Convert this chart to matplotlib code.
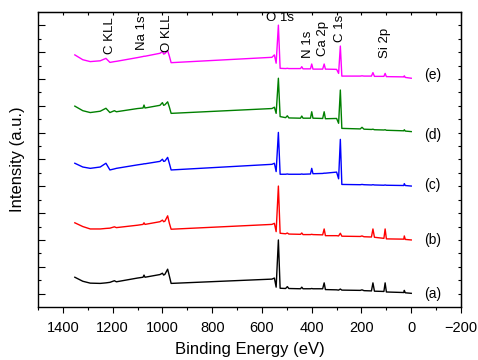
import matplotlib
matplotlib.use("Agg")
import matplotlib.pyplot as plt
from matplotlib.ticker import MultipleLocator

plt.rcParams['font.family'] = ['Liberation Sans', 'DejaVu Sans']

# binding energy grid (eV), shared by all spectra
energy = [1352, 1320, 1290, 1250, 1227, 1211, 1193, 1185, 1100, 1078,
          1074, 1070, 1010, 1000, 995, 990, 979, 972, 965, 560,
          550, 543, 534, 527, 505, 498, 492, 445, 440, 435,
          405, 400, 395, 356, 350, 345, 300, 292, 285, 279,
          205, 198, 190, 160, 154, 148, 110, 105, 100, 30,
          28, 24, 0]

# stacked intensities (a.u., already offset)
spec_a = [1.11, 0.96, 0.89, 0.88, 0.90, 0.92, 0.98, 0.94, 1.08, 1.11,
          1.19, 1.11, 1.21, 1.26, 1.19, 1.22, 1.41, 1.15, 0.88, 1.04,
          1.08, 0.74, 2.50, 0.70, 0.69, 0.76, 0.69, 0.68, 0.74, 0.68,
          0.68, 0.69, 0.68, 0.68, 0.90, 0.65, 0.64, 0.63, 0.67, 0.63,
          0.62, 0.64, 0.61, 0.60, 0.90, 0.59, 0.58, 0.90, 0.56, 0.54,
          0.62, 0.53, 0.51]
spec_b = [3.14, 3.00, 2.91, 2.91, 2.93, 2.94, 2.99, 2.96, 3.05, 3.08,
          3.14, 3.08, 3.18, 3.24, 3.18, 3.20, 3.40, 3.12, 2.90, 3.08,
          3.12, 2.81, 4.51, 2.75, 2.73, 2.76, 2.72, 2.71, 2.76, 2.70,
          2.70, 2.71, 2.70, 2.69, 2.91, 2.66, 2.66, 2.65, 2.75, 2.64,
          2.63, 2.65, 2.62, 2.61, 2.91, 2.60, 2.56, 2.91, 2.54, 2.53,
          2.65, 2.52, 2.50]
spec_c = [5.36, 5.22, 5.17, 5.22, 5.36, 5.11, 5.15, 5.17, 5.30, 5.33,
          5.34, 5.34, 5.43, 5.51, 5.43, 5.44, 5.58, 5.35, 5.11, 5.32,
          5.36, 5.05, 6.51, 4.95, 4.95, 4.96, 4.95, 4.95, 4.96, 4.95,
          4.96, 5.17, 4.97, 4.98, 4.99, 4.99, 5.03, 4.78, 6.25, 4.57,
          4.56, 4.57, 4.56, 4.55, 4.56, 4.55, 4.54, 4.55, 4.54, 4.53,
          4.60, 4.53, 4.51]
spec_d = [7.49, 7.32, 7.25, 7.30, 7.41, 7.25, 7.32, 7.28, 7.40, 7.42,
          7.53, 7.42, 7.52, 7.62, 7.52, 7.54, 7.65, 7.45, 7.22, 7.40,
          7.45, 7.22, 8.53, 7.10, 7.06, 7.13, 7.05, 7.04, 7.12, 7.04,
          7.04, 7.28, 7.04, 7.03, 7.28, 7.02, 7.03, 6.85, 8.09, 6.66,
          6.64, 6.70, 6.63, 6.62, 6.63, 6.61, 6.60, 6.61, 6.59, 6.57,
          6.61, 6.56, 6.54]
spec_e = [9.40, 9.22, 9.15, 9.18, 9.27, 9.12, 9.15, 9.16, 9.30, 9.34,
          9.35, 9.35, 9.46, 9.52, 9.43, 9.45, 9.56, 9.35, 9.11, 9.31,
          9.40, 9.09, 10.51, 8.90, 8.89, 8.90, 8.89, 8.89, 8.96, 8.88,
          8.88, 9.06, 8.87, 8.87, 9.06, 8.87, 8.86, 8.71, 9.73, 8.61,
          8.61, 8.62, 8.61, 8.61, 8.74, 8.60, 8.60, 8.71, 8.59, 8.58,
          8.62, 8.56, 8.53]

series = [spec_a, spec_b, spec_c, spec_d, spec_e]
series_names = ['(a)', '(b)', '(c)', '(d)', '(e)']
series_colors = ['black', '#ff0000', '#0000ff', '#008000', '#ff00ff']
name_y = [0.48, 2.5, 4.55, 6.42, 8.65]

# peak assignments: (text, energy, y, rotation)
peak_labels = [('C KLL', 1211, 9.43, 90), ('Na 1s', 1083, 9.58, 90),
               ('O KLL', 983, 9.51, 90), ('O 1s', 527, 10.76, 0),
               ('N 1s', 413, 9.28, 90), ('Ca 2p', 353, 9.36, 90),
               ('C 1s', 288, 9.89, 90), ('Si 2p', 107, 9.28, 90)]

fig = plt.figure(figsize=(4.78, 3.6), dpi=100)
ax = fig.add_axes([0.0795, 0.1472, 0.885, 0.8195])

for y, c in zip(series, series_colors):
    ax.plot(energy, y, color=c, lw=1.0)

for name, yy in zip(series_names, name_y):
    ax.text(-86, yy, name, ha='center', va='center', fontsize=10)

for txt, e, yy, rot in peak_labels:
    if rot == 90:
        ax.text(e, yy, txt, rotation=90, ha='center', va='bottom', fontsize=9.5)
    else:
        ax.text(e, yy, txt, ha='center', va='center', fontsize=9.5)

ax.set_xlim(1500, -200)
ax.set_ylim(0, 11)
ax.xaxis.set_major_locator(MultipleLocator(200))
ax.xaxis.set_minor_locator(MultipleLocator(100))
ax.set_yticks([0.5 + i for i in range(11)])
ax.set_yticks(range(1, 11), minor=True)
ax.set_yticklabels([])

ax.tick_params(axis='x', which='major', direction='out', length=4, width=0.8,
               labelsize=10.5, pad=6)
ax.tick_params(axis='x', which='minor', direction='out', length=2, width=0.8)
ax.tick_params(axis='y', which='major', direction='in', length=5, width=0.8)
ax.tick_params(axis='y', which='minor', direction='in', length=2.5, width=0.8)

# mirrored ticks on top and right
top = ax.secondary_xaxis('top')
top.xaxis.set_major_locator(MultipleLocator(200))
top.xaxis.set_minor_locator(MultipleLocator(100))
top.tick_params(which='both', direction='in', length=2, width=0.8, labeltop=False)
right = ax.secondary_yaxis('right')
right.set_yticks([0.5 * i for i in range(1, 22)])
right.tick_params(which='both', direction='in', length=2, width=0.8, labelright=False)

for s in ax.spines.values():
    s.set_linewidth(1.0)

ax.set_xlabel('Binding Energy (eV)', fontsize=12, labelpad=5)
ax.set_ylabel('Intensity (a.u.)', fontsize=12, labelpad=6)

fig.savefig('out.png', dpi=100)
